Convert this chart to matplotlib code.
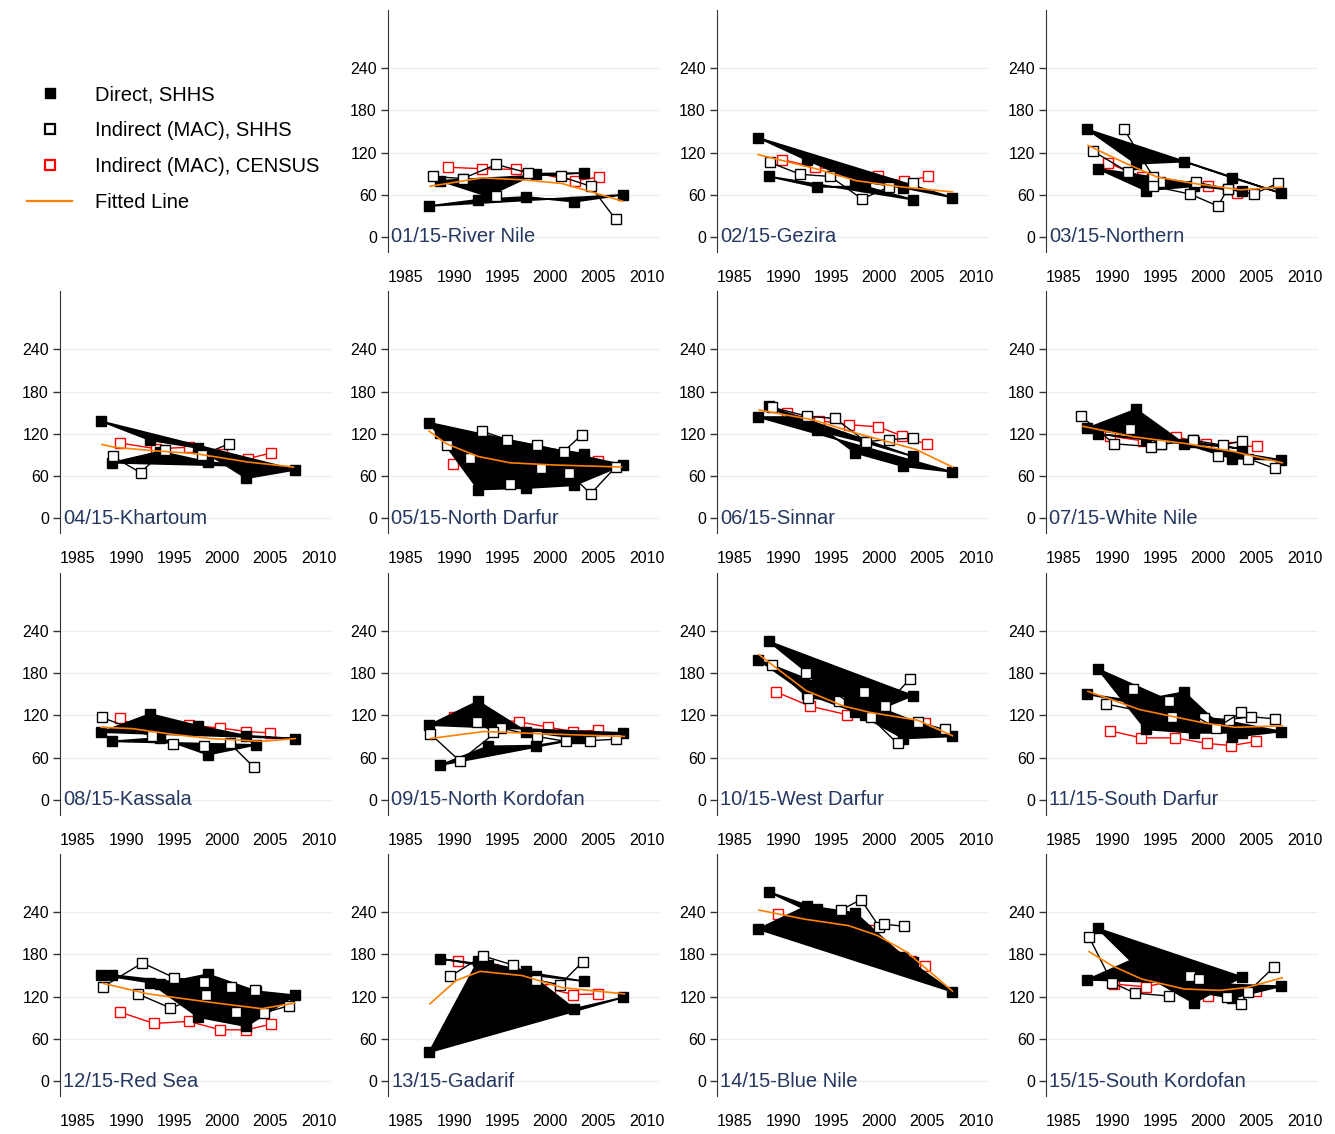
import matplotlib
matplotlib.use("Agg")
import matplotlib.pyplot as plt
from matplotlib.lines import Line2D

plt.rcParams["font.family"] = ["Liberation Sans", "DejaVu Sans"]

regions = ["River Nile", "Gezira", "Northern", "Khartoum", "North Darfur",
           "Sinnar", "White Nile", "Kassala", "North Kordofan", "West Darfur",
           "South Darfur", "Red Sea", "Gadarif", "Blue Nile", "South Kordofan"]

# direct estimates, two SHHS rounds (each drawn as a closed polygon)
direct_a_years = [1987.4, 1992.5, 1997.5, 2002.5, 2007.6]
direct_b_years = [1988.5, 1993.5, 1998.5, 2003.5]
direct_a = [[44, 53, 57, 50, 60], [141, 109, 80, 70, 56], [153, 104, 107, 84, 62],
            [138, 111, 100, 57, 69], [136, 41, 43, 47, 76], [144, 144, 93, 74, 66],
            [128, 155, 106, 85, 83], [96, 122, 105, 91, 87], [106, 140, 97, 88, 95],
            [199, 150, 125, 87, 90], [150, 140, 153, 89, 97], [151, 140, 91, 78, 122],
            [41, 171, 156, 103, 119], [216, 249, 239, 177, 127], [144, 175, 130, 118, 135]]
direct_b = [[80, 58, 90, 91], [86, 71, 72, 53], [97, 66, 72, 66],
            [79, 95, 80, 74], [122, 84, 70, 92], [159, 125, 108, 88],
            [120, 112, 108, 99], [83, 88, 64, 78], [49, 76, 77, 88],
            [225, 170, 120, 148], [186, 100, 95, 95], [151, 138, 152, 128],
            [174, 165, 150, 142], [269, 245, 215, 170], [217, 150, 111, 148]]

# indirect (MAC) estimates from SHHS, as connected runs
mac_shhs = [
    [[(1987.8, 86), (1990.9, 83), (1994.4, 58)],
     [(1990.9, 83), (1994.4, 103), (1997.7, 91), (2001.1, 86), (2004.2, 72), (2006.8, 25)]],
    [[(1988.6, 106), (1991.8, 89), (1994.9, 86), (1998.2, 54), (2001.0, 71), (2003.5, 76)]],
    [[(1988.0, 122), (1991.7, 92), (1995.0, 78), (1998.7, 78), (2002.0, 68), (2004.7, 61), (2007.2, 76)],
     [(1991.2, 154), (1994.3, 85)],
     [(1994.3, 72), (1998.1, 61), (2001.0, 44), (2002.0, 68)]],
    [[(1988.6, 88), (1991.5, 65), (1994.0, 97)], [(1997.9, 90), (2000.7, 106)]],
    [[(1989.3, 104), (1991.7, 86), (1995.8, 49), (1999.0, 71), (2001.9, 65), (2004.2, 35), (2006.8, 73)],
     [(1992.9, 124), (1995.5, 112), (1998.6, 104), (2001.4, 95), (2003.3, 119)]],
    [[(1988.8, 158), (1992.5, 145), (1995.4, 142), (1998.6, 109), (2001.0, 112), (2003.5, 114)]],
    [[(1986.8, 145), (1990.2, 106), (1994.0, 102), (1995.1, 105)],
     [(1991.9, 127), (1995.1, 105), (1998.4, 111), (2001.5, 104), (2003.5, 110)],
     [(1998.4, 111), (2001.0, 89), (2004.1, 85), (2006.9, 71)]],
    [[(1987.5, 117), (1992.7, 90), (1994.9, 79), (1998.1, 76), (2000.8, 80), (2003.3, 46)]],
    [[(1987.5, 94), (1990.6, 55), (1994.9, 102), (1998.6, 90), (2001.6, 83), (2004.1, 84), (2006.8, 86)],
     [(1992.4, 111), (1994.0, 97)]],
    [[(1988.8, 191), (1992.6, 145), (1995.8, 140), (1998.4, 153), (2000.6, 133), (2003.2, 172)],
     [(1992.4, 180), (1999.1, 117), (2001.9, 80), (2004.0, 110), (2006.8, 100)]],
    [[(1989.4, 136), (1996.2, 117), (1999.6, 116), (2002.2, 114), (2004.4, 118), (2006.9, 115)],
     [(1992.2, 157), (1995.9, 140), (2000.8, 102), (2003.4, 124)]],
    [[(1987.6, 134), (1991.7, 168), (1995.0, 147), (1998.1, 141), (2000.9, 134), (2003.4, 130)],
     [(1991.2, 124), (1994.6, 104), (1998.3, 122), (2001.4, 98), (2004.3, 97), (2006.9, 107)]],
    [[(1989.6, 149), (1993.0, 178), (1996.1, 165), (1998.5, 144), (2001.0, 137), (2003.4, 170)]],
    [[(1996.0, 243), (1998.1, 258), (2000.0, 219), (2000.5, 223), (2002.6, 220)]],
    [[(1987.6, 205), (1990.0, 140), (1992.4, 125), (1995.9, 121), (1998.1, 149)],
     [(1999.0, 145), (2001.9, 119), (2003.4, 109), (2004.1, 126), (2006.8, 162)]],
]

# indirect (MAC) estimates from the census
mac_census = [
    [(1989.4, 99), (1992.9, 97), (1996.4, 96), (2002.6, 80), (2005.1, 85)],
    [(1989.9, 110), (1993.3, 99), (1996.0, 95), (1999.9, 86), (2002.6, 79), (2005.1, 86)],
    [(1989.6, 105), (1993.1, 85), (2000.0, 73), (2003.0, 62)],
    [(1989.4, 107), (1993.1, 99), (1996.5, 101), (2000.0, 92), (2002.7, 85), (2005.1, 93)],
    [(1989.9, 77), (1994.5, 84), (1999.5, 82), (2005.0, 81)],
    [(1990.4, 149), (1993.7, 139), (1996.9, 133), (1999.9, 130), (2002.4, 117), (2005.0, 105)],
    [(1989.8, 117), (1993.2, 110), (1996.6, 116), (1999.8, 106), (2002.6, 101), (2005.1, 103)],
    [(1989.4, 116), (1992.8, 90), (1996.5, 106), (1999.8, 102), (2002.5, 97), (2005.0, 95)],
    [(1990.0, 118), (1996.7, 111), (1999.8, 103), (2002.4, 97), (2005.0, 99)],
    [(1989.3, 153), (1992.8, 133), (1996.6, 121), (2004.8, 109)],
    [(1989.8, 98), (1993.0, 88), (1996.5, 88), (1999.9, 80), (2002.4, 77), (2005.0, 83)],
    [(1989.4, 98), (1992.9, 82), (1996.5, 85), (1999.8, 73), (2002.5, 73), (2005.1, 81)],
    [(1990.4, 171), (1994.0, 160), (2000.0, 131), (2002.4, 123), (2005.0, 124)],
    [(1989.5, 237), (1994.0, 228), (1999.0, 215), (2003.3, 171), (2004.8, 164)],
    [(1990.2, 138), (1993.5, 134), (1997.0, 145), (2000.0, 121), (2005.0, 128)],
]

fitted = [
    [(1987.5, 72), (1992.9, 84), (1997.4, 81), (2001.2, 76), (2004.3, 64), (2007.5, 51)],
    [(1987.4, 117), (1993.4, 97), (1997.6, 80), (2002.4, 71), (2007.6, 64)],
    [(1987.5, 130), (1991.2, 106), (1994.7, 85), (1998.5, 76), (2003.3, 67), (2007.7, 71)],
    [(1987.5, 105), (1988.8, 101), (1993.0, 96), (1997.2, 92), (2002.7, 80), (2007.4, 73)],
    [(1987.4, 124), (1989.2, 106), (1992.5, 88), (1995.8, 79), (2000.1, 76), (2007.4, 73)],
    [(1987.5, 154), (1993.1, 140), (1997.6, 121), (2003.8, 98), (2007.6, 73)],
    [(1986.9, 131), (1992.2, 116), (1997.8, 106), (2002.6, 95), (2007.7, 79)],
    [(1987.4, 103), (1990.7, 101), (1994.8, 93), (1998.8, 87), (2004.1, 83), (2007.6, 87)],
    [(1987.5, 87), (1993.1, 97), (1998.7, 94), (2007.7, 90)],
    [(1987.5, 206), (1992.4, 155), (1996.3, 133), (1999.1, 124), (2004.0, 113), (2007.6, 91)],
    [(1987.5, 154), (1992.9, 128), (1999.6, 109), (2002.8, 103), (2007.7, 105)],
    [(1987.6, 139), (1992.3, 124), (1998.8, 112), (2004.1, 103), (2007.5, 111)],
    [(1987.5, 110), (1990.2, 143), (1992.7, 156), (1997.1, 150), (2001.2, 133), (2007.7, 124)],
    [(1987.5, 243), (1992.3, 230), (1996.8, 221), (1999.8, 207), (2002.9, 183), (2007.6, 128)],
    [(1987.6, 184), (1990.0, 164), (1993.1, 145), (1997.5, 131), (2001.2, 129), (2004.0, 133), (2007.7, 147)],
]

yticks = [0, 60, 120, 180, 240]
xticks = [1985, 1990, 1995, 2000, 2005, 2010]

ORANGE = "#ff8000"
NAVY = "#26375f"
GRID = "#e8f0f1"

W, H = 1335, 1134
fig = plt.figure(figsize=(W / 100, H / 100), dpi=100)

col_left = [60, 388, 717, 1046]
ax_w = 272
for i, name in enumerate(regions):
    cell = i + 1
    r, c = divmod(cell, 4)
    top = 10 + 281.4 * r
    ax = fig.add_axes([col_left[c] / W, 1 - (top + 242) / H, ax_w / W, 242 / H])
    ax.set_xlim(1983.13, 1983.13 + ax_w / 9.62)
    ax.set_ylim(-21.3, 322.4)
    for g in yticks:
        ax.axhline(g, color=GRID, lw=1, zorder=0)

    xs, ys = zip(*mac_census[i])
    ax.plot(xs, ys, color="red", lw=1, marker="s", ms=7, mfc="white",
            mec="red", mew=1, zorder=2)

    for yrs, vals in ((direct_a_years, direct_a[i]), (direct_b_years, direct_b[i])):
        ax.fill(yrs, vals, facecolor="black", edgecolor="black", lw=1.2, zorder=3)
        ax.plot(yrs, vals, ls="none", marker="s", ms=7, color="black", zorder=3)

    for run in mac_shhs[i]:
        xs, ys = zip(*run)
        ax.plot(xs, ys, color="black", lw=1, marker="s", ms=7, mfc="white",
                mec="black", mew=1, zorder=4)

    xs, ys = zip(*fitted[i])
    ax.plot(xs, ys, color=ORANGE, lw=1.2, zorder=5)

    ax.text(0.012, 0.062, f"{cell:02d}/15-{name}", transform=ax.transAxes,
            fontsize=14.5, color=NAVY, va="center", ha="left", zorder=6)

    ax.set_yticks(yticks)
    ax.set_xticks(xticks)
    ax.tick_params(axis="y", labelsize=11.5, length=5, width=1, color="#333333", pad=3)
    ax.tick_params(axis="x", labelsize=11.5, length=0, pad=13)
    for s in ("top", "right", "bottom"):
        ax.spines[s].set_visible(False)
    ax.spines["left"].set_color("#333333")

handles = [
    Line2D([], [], ls="none", marker="s", ms=6.5, color="black"),
    Line2D([], [], ls="none", marker="s", ms=6.5, mfc="white", mec="black", mew=1.6),
    Line2D([], [], ls="none", marker="s", ms=6.5, mfc="white", mec="red", mew=1.6),
    Line2D([], [], color=ORANGE, lw=1.6),
]
labels = ["Direct, SHHS", "Indirect (MAC), SHHS", "Indirect (MAC), CENSUS", "Fitted Line"]
fig.legend(handles, labels, loc="upper left", bbox_to_anchor=(19 / W, 1 - 77 / H),
           frameon=False, fontsize=14.5, handlelength=2.25, handletextpad=1.1,
           labelspacing=0.85, borderaxespad=0)

fig.savefig("out.png", dpi=100)
